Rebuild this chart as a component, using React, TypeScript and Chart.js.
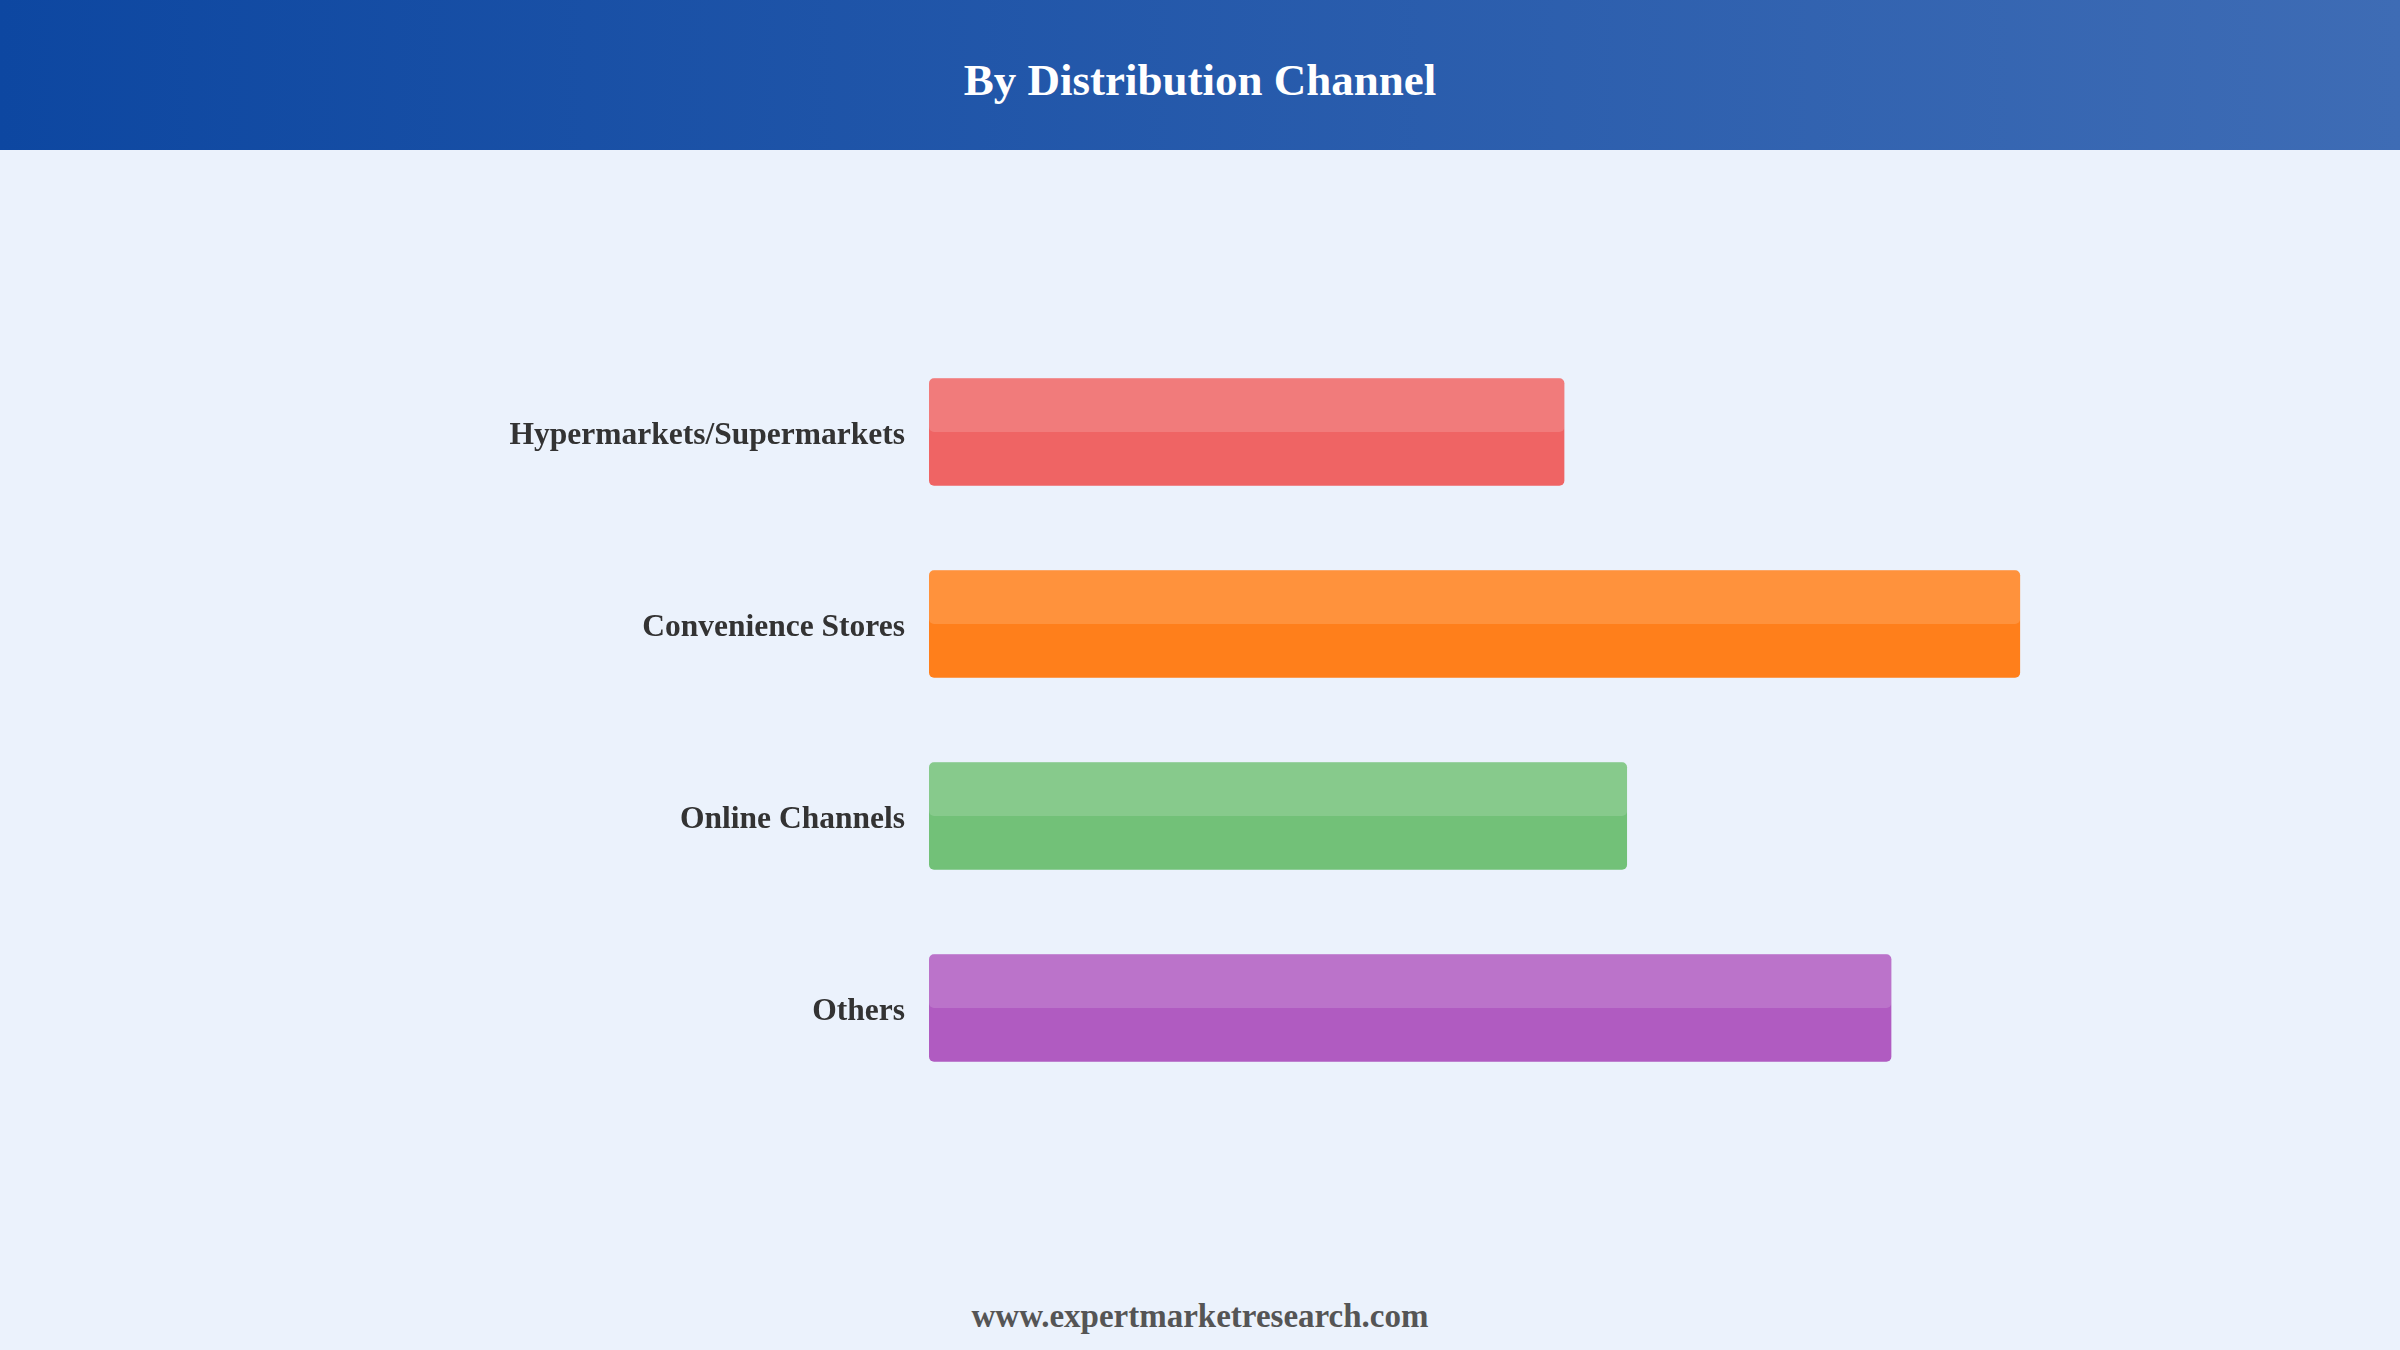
import React, { useRef, useEffect } from "react";
import { Chart, registerables } from "chart.js";

Chart.register(...registerables);

const categories = [
  "Hypermarkets/Supermarkets",
  "Convenience Stores",
  "Online Channels",
  "Others",
];
const shares = [18.75, 32.2, 20.6, 28.4];
const barColors = ["#ef6464", "#ff7f1b", "#72c178", "#b05bc1"];

const SERIF = "'Liberation Serif', 'Times New Roman', Times, serif";

// lighter overlay on the top half of every bar
const topShine = {
  id: "topShine",
  afterDatasetsDraw(chart: Chart) {
    const ctx = chart.ctx;
    const meta = chart.getDatasetMeta(0);
    ctx.save();
    ctx.fillStyle = "rgba(255,255,255,0.15)";
    meta.data.forEach((bar: any) => {
      const { x, y, base, height } = bar.getProps(["x", "y", "base", "height"], true);
      const left = Math.min(x, base);
      const w = Math.abs(x - base);
      ctx.beginPath();
      (ctx as any).roundRect(left, y - height / 2, w, height / 2, 5);
      ctx.fill();
    });
    ctx.restore();
  },
};

const DistributionChart: React.FC = () => {
  const chartRef = useRef<HTMLCanvasElement>(null);
  const chartInstance = useRef<Chart | null>(null);

  useEffect(() => {
    if (!chartRef.current) return;
    if (chartInstance.current) chartInstance.current.destroy();
    const ctx = chartRef.current.getContext("2d");
    if (!ctx) return;

    chartInstance.current = new Chart(ctx, {
      type: "bar",
      data: {
        labels: categories,
        datasets: [
          {
            data: shares,
            backgroundColor: barColors,
            borderWidth: 0,
            borderRadius: 5,
            borderSkipped: false,
            barPercentage: 0.7,
            categoryPercentage: 0.8,
          },
        ],
      },
      options: {
        indexAxis: "y",
        animation: false,
        responsive: true,
        maintainAspectRatio: false,
        layout: { padding: { top: 186, bottom: 146, left: 0, right: 285 } },
        scales: {
          x: { display: false, min: 0, max: 35 },
          y: {
            grid: { display: false },
            border: { display: false },
            afterFit: (scale: any) => {
              scale.width = 929;
            },
            ticks: {
              padding: 16,
              labelOffset: 4,
              color: "#333333",
              font: { family: SERIF, size: 31.5, weight: "bold" },
            },
          },
        },
        plugins: {
          legend: { display: false },
          tooltip: { enabled: false },
        },
        events: [],
      },
      plugins: [topShine],
    });

    return () => {
      if (chartInstance.current) {
        chartInstance.current.destroy();
        chartInstance.current = null;
      }
    };
  }, []);

  return (
    <div style={{ position: "absolute", left: 0, top: 150, width: 2400, height: 1100 }}>
      <canvas ref={chartRef}></canvas>
    </div>
  );
};

const App: React.FC = () => {
  useEffect(() => {
    document.body.style.margin = "0";
  }, []);

  return (
    <div
      style={{
        position: "fixed",
        left: 0,
        top: 0,
        width: 2400,
        height: 1350,
        background: "#ebf2fc",
        fontFamily: SERIF,
        overflow: "hidden",
      }}
    >
      <div
        style={{
          height: 150,
          background: "linear-gradient(90deg, #0d47a1 0%, #3e6cb5 100%)",
          display: "flex",
          alignItems: "center",
          justifyContent: "center",
          paddingTop: 10,
          boxSizing: "border-box",
        }}
      >
        <span style={{ color: "#ffffff", fontSize: 45, fontWeight: "bold" }}>
          By Distribution Channel
        </span>
      </div>
      <DistributionChart />
      <div
        style={{
          position: "absolute",
          left: 0,
          top: 1298,
          width: 2400,
          textAlign: "center",
          color: "#555555",
          fontSize: 33,
          fontWeight: "bold",
        }}
      >
        www.expertmarketresearch.com
      </div>
    </div>
  );
};

export default App;
